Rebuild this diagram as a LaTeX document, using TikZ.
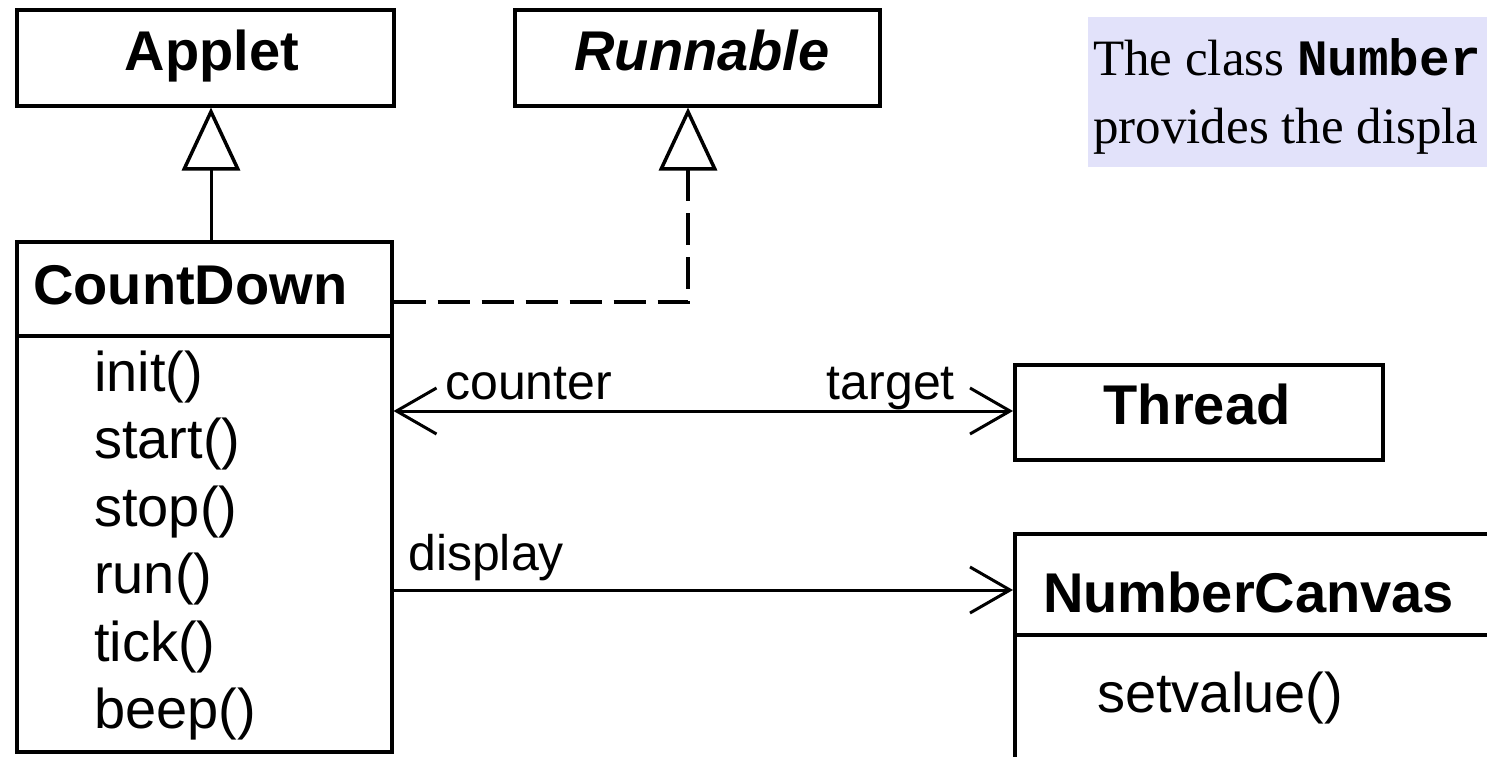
\documentclass[tikz,border=0pt]{standalone}
\usepackage{fontspec}
\setmainfont{Liberation Sans}
\newfontfamily\notefont{Liberation Serif}
\newfontfamily\codefont{Liberation Mono}
\usetikzlibrary{arrows.meta}
\definecolor{notefill}{RGB}{226,226,250}
\begin{document}
\begin{tikzpicture}[x=1pt,y=-1pt,
  box/.style={draw, line width=3.5pt, inner sep=0pt, anchor=north west},
  titletext/.style={font=\fontsize{56}{67}\selectfont\bfseries, inner sep=0pt, anchor=base},
  meth/.style={font=\fontsize{56}{67}\selectfont, inner sep=0pt, anchor=base west},
  lbl/.style={font=\fontsize{50}{60}\selectfont, inner sep=0pt, anchor=base west},
  notetext/.style={font=\fontsize{51}{61}\notefont, inner sep=0pt, anchor=base west},
  notebox/.style={fill=notefill, inner sep=0pt, anchor=north west},
  conn/.style={line width=3pt},
  inherit/.style={conn, -{Triangle[length=63pt, width=58pt, fill=white, line width=3.5pt]}},
  realize/.style={line width=4pt, dash pattern=on 32pt off 12pt, -{Triangle[length=63pt, width=58pt, fill=white, line width=3.5pt]}},
  assoc/.style={conn, -{Straight Barb[length=40pt, width=46pt, line width=3pt]}},
  biassoc/.style={conn, {Straight Barb[length=40pt, width=46pt, line width=3pt]}-{Straight Barb[length=40pt, width=46pt, line width=3pt]}}
]
\useasboundingbox (0,0) rectangle (1487,756);
\clip (0,0) rectangle (1487,756);

% note
\node[notebox, minimum width=420pt, minimum height=150pt] (note) at (1088,17) {};
\node[notetext] (note1) at (1093,75) {The class {\codefont\bfseries Number}};
\node[notetext] (note2) at (1093,143) {provides the displa};

% classes
\node[box, minimum width=377pt, minimum height=96pt] (applet) at (15,8) {};
\node[titletext] (applett) at (212,70) {Applet};

\node[box, minimum width=365pt, minimum height=96pt] (rn) at (513,8) {};
\node[titletext, font=\fontsize{56}{67}\selectfont\bfseries\itshape] (rnt) at (702,70) {Runnable};

\node[box, minimum width=375pt, minimum height=510pt] (cd) at (15,240) {};
\draw[line width=3.5pt] (cd.west |- 0,336) -- (cd.east |- 0,336);
\node[titletext, anchor=base west] (cdt) at (33,304) {CountDown};
\node[meth] (m1) at (94,391) {init()};
\node[meth] (m2) at (94,458.5) {start()};
\node[meth] (m3) at (94,526) {stop()};
\node[meth] (m4) at (94,593.5) {run()};
\node[meth] (m5) at (94,661) {tick()};
\node[meth] (m6) at (94,728.5) {beep()};

\node[box, minimum width=368pt, minimum height=95pt] (thread) at (1013,363) {};
\node[titletext] (threadt) at (1197,424) {Thread};

\node[box, minimum width=520pt, minimum height=300pt] (nc) at (1013,532) {};
\draw[line width=3.5pt] (nc.west |- 0,635) -- (nc.east |- 0,635);
\node[titletext, anchor=base west] (nct) at (1043,612) {NumberCanvas};
\node[meth] (ncm) at (1097,712) {setvalue()};

% connectors
\draw[inherit] (cd.north -| 211,0) -- (applet.south -| 211,0);
\coordinate (rb) at (688,302);
\draw[realize] (cd.east |- rb) -- (rb) -- (rb |- rn.south);
\draw[biassoc] (cd.east |- 0,411) -- (thread.west |- 0,411);
\node[lbl] (counter) at (445,399) {counter};
\node[lbl, anchor=base east] (target) at (955,399) {target};
\draw[assoc] (cd.east |- 0,590) -- (nc.west |- 0,590);
\node[lbl] (display) at (408,570) {display};
\end{tikzpicture}
\end{document}
